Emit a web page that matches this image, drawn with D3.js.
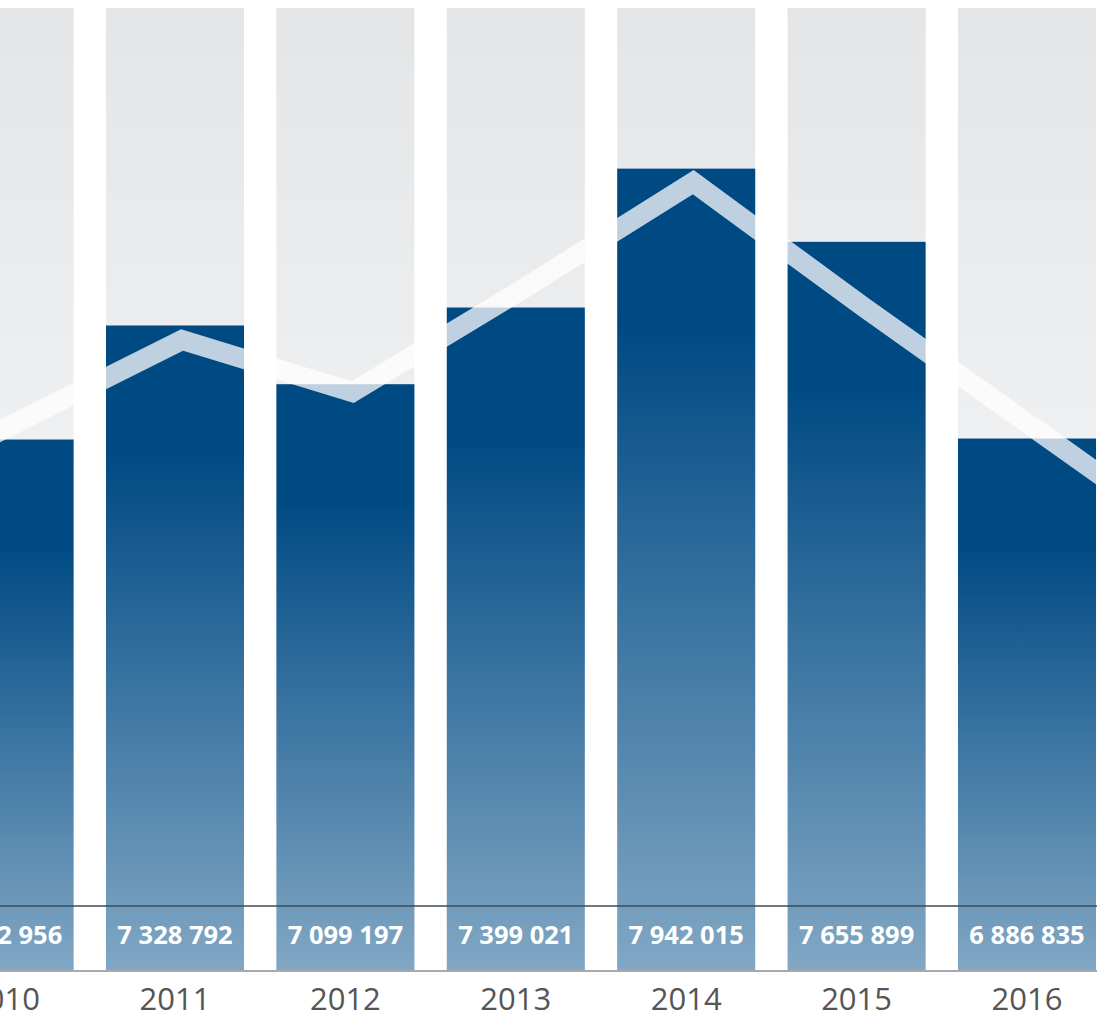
<!DOCTYPE html>
<html>
<head>
<meta charset="utf-8">
<script src="https://cdn.jsdelivr.net/npm/d3@7"></script>
<style>
  html, body { margin: 0; padding: 0; background: #fff; }
  svg { display: block; }
</style>
</head>
<body>
<div id="main"></div>
<script>
const ctx = {
    w: 1097,
    h: 1025,
};

// bars (2010 value partly hidden in the picture, first digits estimated)
const years = [2010, 2011, 2012, 2013, 2014, 2015, 2016];
const values = [6882956, 7328792, 7099197, 7399021, 7942015, 7655899, 6886835];

// light line, runs past both ends of the visible bars
const lineYears = [2009, 2010, 2011, 2012, 2013, 2014, 2015, 2016, 2017];
const lineValues = [6607000, 6939000, 7272000, 7068000, 7471000, 7889000, 7401000, 6928000, 6455000];

const frFormat = d3.formatLocale({thousands: " ", grouping: [3], decimal: ",", currency: ["", ""]}).format(",d");

function createViz() {
    const svgEl = d3.select("#main").append("svg")
        .attr("width", ctx.w)
        .attr("height", ctx.h);

    const top = 8, bottom = 970, labelTop = 906;

    const x = d3.scaleBand()
        .domain(years)
        .range([-80.6, 1112.2])
        .paddingInner(0.19)
        .paddingOuter(0.095);

    const y = d3.scaleLinear()
        .domain([4809000, 8570000])
        .range([bottom, top]);

    const half = x.bandwidth() / 2;
    const xLine = d3.scaleLinear()
        .domain([years[0], years[years.length - 1]])
        .range([x(years[0]) + half + 7, x(years[years.length - 1]) + half + 7]);

    const defs = svgEl.append("defs");

    const bg = defs.append("linearGradient")
        .attr("id", "bgGrad")
        .attr("gradientUnits", "userSpaceOnUse")
        .attr("x1", 0).attr("x2", 0)
        .attr("y1", top).attr("y2", bottom);
    bg.append("stop").attr("offset", "0%").attr("stop-color", "#e4e5e7");
    bg.append("stop").attr("offset", "50%").attr("stop-color", "#f0f1f2");
    bg.append("stop").attr("offset", "100%").attr("stop-color", "#f6f6f7");

    const blue = defs.append("linearGradient")
        .attr("id", "barGrad")
        .attr("x1", 0).attr("x2", 0)
        .attr("y1", 0).attr("y2", 1);
    blue.append("stop").attr("offset", "0%").attr("stop-color", "#004a84");
    blue.append("stop").attr("offset", "20%").attr("stop-color", "#004a84");
    blue.append("stop").attr("offset", "100%").attr("stop-color", "#81a7c4");

    // grey background columns
    svgEl.selectAll(".bg")
        .data(years)
        .enter().append("rect")
        .attr("class", "bg")
        .attr("x", d => x(d))
        .attr("y", y.range()[1])
        .attr("width", x.bandwidth())
        .attr("height", y.range()[0] - y.range()[1])
        .style("fill", "url(#bgGrad)");

    // blue bars
    svgEl.selectAll(".bar")
        .data(years.map((yr, i) => ({year: yr, value: values[i]})))
        .enter().append("rect")
        .attr("class", "bar")
        .attr("x", d => x(d.year))
        .attr("y", d => y(d.value))
        .attr("width", x.bandwidth())
        .attr("height", d => bottom - y(d.value))
        .style("fill", "url(#barGrad)");

    // white translucent line
    const line = d3.line()
        .x(d => xLine(d.year))
        .y(d => y(d.value));

    svgEl.append("path")
        .datum(lineYears.map((yr, i) => ({year: yr, value: lineValues[i]})))
        .attr("d", line)
        .style("fill", "none")
        .style("stroke", "#fff")
        .style("stroke-opacity", 0.75)
        .style("stroke-width", 20)
        .style("stroke-linejoin", "miter");

    // label band rules
    svgEl.append("line")
        .attr("x1", 0).attr("x2", ctx.w)
        .attr("y1", labelTop).attr("y2", labelTop)
        .style("stroke", "#3f4a55")
        .style("stroke-width", 1.5);

    svgEl.append("line")
        .attr("x1", 0).attr("x2", ctx.w)
        .attr("y1", bottom + 1).attr("y2", bottom + 1)
        .style("stroke", "#8a8d90")
        .style("stroke-width", 1.5);

    // value labels
    svgEl.selectAll(".val")
        .data(years.map((yr, i) => ({year: yr, value: values[i]})))
        .enter().append("text")
        .attr("class", "val")
        .attr("x", d => x(d.year) + half)
        .attr("y", 944)
        .attr("text-anchor", "middle")
        .style("font-family", "'Open Sans', sans-serif")
        .style("font-weight", "700")
        .style("font-size", "25.5px")
        .style("fill", "#fff")
        .text(d => frFormat(d.value));

    // year axis
    const axis = svgEl.append("g")
        .attr("transform", `translate(0, ${bottom})`)
        .call(d3.axisBottom(x).tickSize(0).tickPadding(18).tickFormat(d3.format("d")));
    axis.select(".domain").remove();
    axis.selectAll("text")
        .style("font-family", "'Open Sans', sans-serif")
        .style("font-size", "31px")
        .style("fill", "#555");
}

createViz();
</script>
</body>
</html>
